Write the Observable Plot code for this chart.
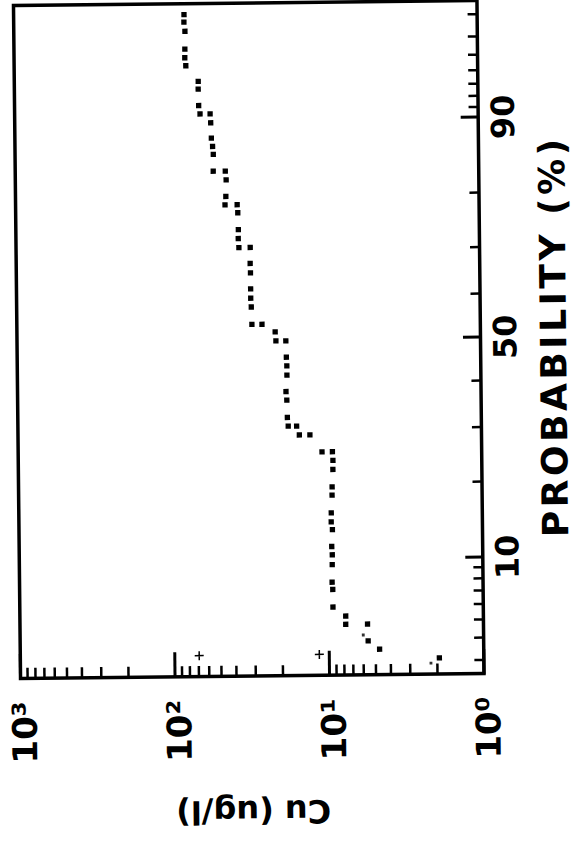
<!DOCTYPE html>
<html><head><meta charset="utf-8">
<script src="https://cdn.jsdelivr.net/npm/d3@7"></script>
<script src="https://cdn.jsdelivr.net/npm/@observablehq/plot@0.6"></script>
<style>
html,body{margin:0;padding:0;background:#fff;width:584px;height:843px;overflow:hidden}
#wrap{position:absolute;left:0;top:0;width:584px;height:843px;transform:rotate(-0.6deg);transform-origin:248px 340px}
#chart{position:absolute;left:0;top:0;width:843px;height:584px;transform-origin:0 0;transform:translate(0,843px) rotate(-90deg)}
</style></head><body>
<div id="wrap"><div id="chart"></div></div>
<script>
// Cumulative probability (%) and copper concentration (ug/l) of each plotted sample
const probability = [97.1,96.8,96.4,95.5,95.0,94.5,93.4,92.8,91.4,90.6,90.6,89.7,88.0,87.0,86.0,83.7,83.7,82.4,79.8,78.4,78.4,77.0,73.9,72.2,70.4,70.4,67.1,65.1,61.6,59.5,57.5,53.5,53.5,51.7,49.6,49.6,45.8,43.8,41.7,38.0,36.1,32.4,30.6,30.6,28.8,28.8,25.5,25.5,23.9,22.3,19.4,18.1,15.5,14.3,13.3,11.3,10.4,9.4,7.8,7.2,5.9,5.3,4.8,4.8,3.9,3.5,3.1];
const copper = [78.9,79.1,78.0,78.3,78.5,77.4,64.5,64.6,64.3,63.1,54.3,53.9,53.5,52.6,52.1,52.3,43.7,43.2,43.5,44.1,36.8,36.5,36.3,36.4,36.1,30.5,30.6,30.5,30.5,30.5,30.3,30.1,25.9,21.3,21.1,18.2,18.1,18.0,18.0,18.3,18.1,18.0,17.8,15.7,15.1,12.9,10.8,9.25,9.19,9.21,9.34,9.36,9.50,9.52,9.36,9.48,9.42,9.44,9.48,9.40,9.40,7.78,7.79,5.63,5.59,4.72,1.94];
// faint small points
const faintProbability = [4.2, 2.9];
const faintCopper = [6.01, 2.20];
// small "+" marks near the concentration axis
const plusProbability = [3.3, 3.3];
const plusCopper = [69.5, 11.6];

const probMajor = [10, 50, 90];
const probMinor = [3,4,5,6,7,8,9,20,30,40,60,70,80,91,92,93,94,95,96,97];
const cuMajor = [1, 10, 100, 1000];
const cuLabels = ["10\u2070", "10\u00B9", "10\u00B2", "10\u00B3"];
const cuMinor = [2,3,4,5,6,7,8,9,20,30,40,50,60,70,80,90,200,300,400,500,600,700,800,900];
const xLabel = "PROBABILITY (%)";
const yLabel = "Cu (ug/l)";

// inverse normal CDF (probability paper scale)
function probit(p){
  const a=[-3.969683028665376e+01,2.209460984245205e+02,-2.759285104469687e+02,1.383577518672690e+02,-3.066479806614716e+01,2.506628277459239e+00];
  const b=[-5.447609879822406e+01,1.615858368580409e+02,-1.556989798598866e+02,6.680131188771972e+01,-1.328068155288572e+01];
  const c=[-7.784894002430293e-03,-3.223964580411365e-01,-2.400758277161838e+00,-2.549732539343734e+00,4.374664141464968e+00,2.938163982698783e+00];
  const d=[7.784695709041462e-03,3.224671290700398e-01,2.445134137142996e+00,3.754408661907416e+00];
  const pl=0.02425, ph=1-pl; let q,r;
  if(p<pl){q=Math.sqrt(-2*Math.log(p));return (((((c[0]*q+c[1])*q+c[2])*q+c[3])*q+c[4])*q+c[5])/((((d[0]*q+d[1])*q+d[2])*q+d[3])*q+1);}
  if(p<=ph){q=p-0.5;r=q*q;return (((((a[0]*r+a[1])*r+a[2])*r+a[3])*r+a[4])*r+a[5])*q/(((((b[0]*r+b[1])*r+b[2])*r+b[3])*r+b[4])*r+1);}
  q=Math.sqrt(-2*Math.log(1-p));return -(((((c[0]*q+c[1])*q+c[2])*q+c[3])*q+c[4])*q+c[5])/((((d[0]*q+d[1])*q+d[2])*q+d[3])*q+1);
}
const pz = v => probit(v / 100);

const points = probability.map((p, i) => ({p, cu: copper[i]}));
const faint = faintProbability.map((p, i) => ({p, cu: faintCopper[i]}));
const pluses = plusProbability.map((p, i) => ({p, cu: plusCopper[i]}));

const W = 843, H = 584, mL = 166.5, mR = 3.5, mT = 16.5, mB = 104;
const fW = W - mL - mR, fH = H - mT - mB;

const chart = Plot.plot({
  width: W, height: H,
  marginLeft: mL, marginRight: mR, marginTop: mT, marginBottom: mB,
  x: {domain: [probit(0.025), probit(0.975)], axis: null},
  y: {type: "log", domain: [1, 1000], axis: null},
  style: {fontFamily: "'DejaVu Sans', sans-serif", fontWeight: "bold", background: "white", color: "black", overflow: "visible"},
  marks: [
    Plot.tickY(cuMinor, {y: d => d, insetRight: fW - 11, stroke: "black", strokeWidth: 2.5}),
    Plot.tickY(cuMajor, {y: d => d, insetRight: fW - 25, stroke: "black", strokeWidth: 3}),
    Plot.tickX(probMinor, {x: pz, insetTop: fH - 9, stroke: "black", strokeWidth: 2.5}),
    Plot.tickX(probMajor, {x: pz, insetTop: fH - 17, stroke: "black", strokeWidth: 3}),
    Plot.frame({stroke: "black", strokeWidth: 3.5}),
    Plot.dot(points, {x: d => pz(d.p), y: "cu", symbol: "square", r: 3, fill: "black", stroke: "none"}),
    Plot.dot(faint, {x: d => pz(d.p), y: "cu", symbol: "square", r: 1.6, fill: "#333", stroke: "none"}),
    Plot.dot(pluses, {x: d => pz(d.p), y: "cu", symbol: "plus", r: 3, stroke: "black", strokeWidth: 1.5}),
    Plot.text(cuMajor, {y: d => d, text: (d, i) => cuLabels[i], frameAnchor: "left", textAnchor: "end", dx: -23, dy: 5, fontSize: 34, fontWeight: "bold", fill: "black"}),
    Plot.text(probMajor, {x: pz, text: d => String(d), frameAnchor: "bottom", lineAnchor: "top", dy: 13, fontSize: 32, fontWeight: "bold", fill: "black"}),
    Plot.text([xLabel], {text: d => d, frameAnchor: "bottom", textAnchor: "middle", lineAnchor: "top", dy: 60, fontSize: 36, fontWeight: "bold", fill: "black"}),
    Plot.text([yLabel], {text: d => d, frameAnchor: "left", textAnchor: "middle", rotate: -90, dx: -135, fontSize: 32, fontWeight: "bold", fill: "black"})
  ]
});
d3.select(chart).selectAll("text").filter(function(){ return this.textContent === xLabel; })
  .style("letter-spacing", "3.5px");
document.getElementById("chart").appendChild(chart);
</script>
</body></html>
